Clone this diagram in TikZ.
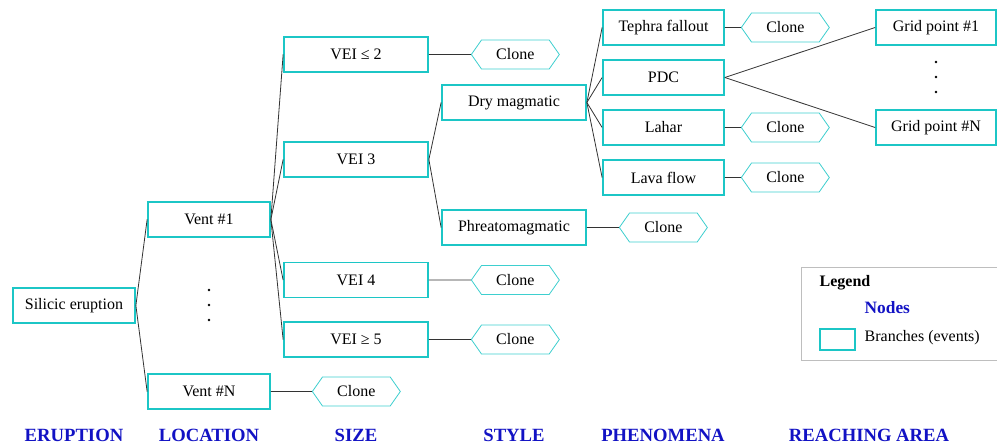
\documentclass[tikz,border=0pt]{standalone}
\usepackage{fontspec}
\setmainfont{Liberation Serif}
\usetikzlibrary{positioning,shapes.symbols}
\definecolor{branchcyan}{HTML}{1CC6C6}
\definecolor{phaseblue}{HTML}{1212C4}
\definecolor{legendgray}{HTML}{BEBEBE}

\begin{document}
\begin{tikzpicture}[x=0.75pt,y=-0.75pt,
    br/.style={draw=branchcyan,line width=1.3pt,fill=white,minimum height=26.25pt,inner sep=2pt,font=\fontsize{12}{14}\selectfont},
    cl/.style={signal,signal to=east and west,signal pointer angle=110,draw=branchcyan!85,line width=0.6pt,fill=white,minimum width=66pt,minimum height=21.75pt,inner sep=1pt,font=\fontsize{12}{14}\selectfont},
    ph/.style={text=phaseblue,font=\fontsize{14}{16}\selectfont\bfseries},
    ln/.style={draw=black!80,line width=0.6pt}
    ]
    \useasboundingbox (0,0) rectangle (997,446);

    % eruption, vents, sizes
    \node[br,minimum width=91.5pt] (erup) at (74,305.5) {Silicic eruption};
    \node[br,minimum width=91.5pt] (v1) at (209,219.5) {Vent \#1};
    \node[br,minimum width=91.5pt] (vn) at (209,391.5) {Vent \#N};
    \node[br,minimum width=108pt] (s1) at (356,54.5) {VEI ≤ 2};
    \node[br,minimum width=108pt] (s2) at (356,159.5) {VEI 3};
    \node[br,minimum width=108pt] (s3) at (356,280) {VEI 4};
    \node[br,minimum width=108pt] (s4) at (356,339.5) {VEI ≥ 5};

    % styles and phenomena
    \node[br,minimum width=108pt] (st1) at (514,102.5) {Dry magmatic};
    \node[br,minimum width=108pt] (st2) at (514,227.5) {Phreatomagmatic};
    \node[br,minimum width=90.75pt] (p1) at (663.5,27.5) {Tephra fallout};
    \node[br,minimum width=90.75pt] (p2) at (663.5,77.5) {PDC};
    \node[br,minimum width=90.75pt] (p3) at (663.5,127.5) {Lahar};
    \node[br,minimum width=90.75pt] (p4) at (663.5,177.5) {Lava flow};
    \node[br,minimum width=90pt] (g1) at (936,27.5) {Grid point \#1};
    \node[br,minimum width=90pt] (gn) at (936,127.5) {Grid point \#N};

    % clones
    \node[cl,right=30.75pt of vn] (cvn) {Clone};
    \node[cl,right=31.5pt of s1] (cs1) {Clone};
    \node[cl,right=31.5pt of s3] (cs3) {Clone};
    \node[cl,right=31.5pt of s4] (cs4) {Clone};
    \node[cl,right=24pt of st2] (cst2) {Clone};
    \node[cl,right=12pt of p1] (cp1) {Clone};
    \node[cl,right=12pt of p3] (cp3) {Clone};
    \node[cl,right=12pt of p4] (cp4) {Clone};

    % branches
    \draw[ln] (erup.east) -- (v1.west);
    \draw[ln] (erup.east) -- (vn.west);
    \foreach \s in {s1,s2,s3,s4}
        \draw[ln] (v1.east) -- (\s.west);
    \draw[ln] (s2.east) -- (st1.west);
    \draw[ln] (s2.east) -- (st2.west);
    \foreach \p in {p1,p2,p3,p4}
        \draw[ln] (st1.east) -- (\p.west);
    \draw[ln] (p2.east) -- (g1.west);
    \draw[ln] (p2.east) -- (gn.west);
    \draw[ln] (vn) -- (cvn);
    \draw[ln] (s1) -- (cs1);
    \draw[ln] (s3) -- (cs3);
    \draw[ln] (s4) -- (cs4);
    \draw[ln] (st2) -- (cst2);
    \draw[ln] (p1) -- (cp1);
    \draw[ln] (p3) -- (cp3);
    \draw[ln] (p4) -- (cp4);

    % dots
    \foreach \y in {290,305,320}
        \fill (209,\y) circle (1.1pt);
    \foreach \y in {62,77,92}
        \fill (936,\y) circle (1.1pt);

    % legend
    \draw[legendgray,line width=0.6pt] (801,267) rectangle (1000,360);
    \node[anchor=west,font=\fontsize{12}{14}\selectfont\bfseries] (lgd) at (815,283) {Legend};
    \node[anchor=west,text=phaseblue,font=\fontsize{13}{15}\selectfont\bfseries] (lnodes) at (860,308) {Nodes};
    \node[br,minimum width=26.25pt,minimum height=15.75pt,inner sep=0pt] (lbox) at (837.5,339.5) {};
    \node[anchor=west,font=\fontsize{12}{14}\selectfont] (lbr) at (860,338) {Branches (events)};

    % phase labels
    \node[ph] (h1) at (74,435) {ERUPTION};
    \node[ph] (h2) at (209,435) {LOCATION};
    \node[ph] (h3) at (356,435) {SIZE};
    \node[ph] (h4) at (514,435) {STYLE};
    \node[ph] (h5) at (663,435) {PHENOMENA};
    \node[ph] (h6) at (869,435) {REACHING AREA};
\end{tikzpicture}
\end{document}
